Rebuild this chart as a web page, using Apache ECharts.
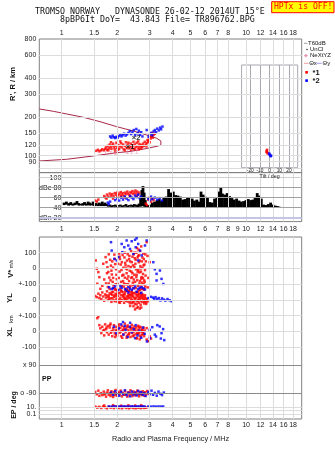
<!DOCTYPE html>
<html><head><meta charset="utf-8">
<script src="https://cdn.jsdelivr.net/npm/echarts@6.0.0/dist/echarts.min.js"></script>
<style>html,body{margin:0;padding:0;background:#fff}#c{width:335px;height:451px}</style>
</head><body><div id="c"></div>
<script>
// ---------- axis ticks ----------
const freqTicks = [1,1.5,2,3,4,5,6,7,8,10,12,14,16,18];
const freqTicksMid = [1,1.5,2,3,4,5,6,7,8,9,10,12,14,16,18];
const rangeTicks = [80,90,100,120,150,200,300,400,600,800];
const dbTicks = [100,80,60,40,20];
const dbTickLabels = ['100','dBe 80','60','40','dBn 20'];
const tiltTicks = [-20,-10,0,10,20];
const bandTickU = [100,0,-100,-200,-300,-400,-500,-614,-794,-879,-923.5];
const bandTickLabels = ['100','0','+-100','0','+-100','0','-100','x 90','o -90','10.','0.1'];

// ---------- top panel: virtual height vs frequency ----------
const profileCurve = [[0.756,230],[0.90,220.6],[1.064,210.3],[1.31,198.3],[1.614,183.4],[1.988,167.7],[2.446,155.3],[2.892,144.6],[3.278,136.3],[3.45,130],[3.513,126.1],[3.45,121.5],[3.343,118.9],[2.831,113.1],[2.348,107.8],[1.988,105.5],[1.484,99.5],[1.064,93.8],[0.756,91]];
const neXtYZ = [[1.733,104.4],[1.851,104.4],[1.963,105.3],[2.27,107.2],[2.398,108.2],[2.553,108.2]];
const centroids = [[2.35,117,'×1'],[2.53,137,'×2']];
const topRed = [[1.54,109],[1.57,111],[1.60,108],[1.63,110],[1.66,112],[1.69,110],[1.72,113],[1.74,116],[1.76,111],[1.78,119],[1.80,114],[1.82,122],[1.84,117],[1.86,113],[1.88,120],[1.90,124],[1.92,116],[1.94,112],[1.96,119],[1.98,126],[2.00,115],[2.03,121],[2.05,113],[2.07,118],[2.10,125],[2.12,116],[2.15,122],[2.17,112],[2.20,119],[2.23,127],[2.25,115],[2.28,121],[2.31,114],[2.34,118],[2.37,124],[2.40,116],[2.43,120],[2.46,113],[2.49,122],[2.52,117],[2.55,126],[2.58,119],[2.61,115],[2.64,123],[2.67,118],[2.70,121],[2.73,117],[2.76,124],[2.79,119],[2.82,128],[2.86,122],[2.90,125],[2.94,129],[2.97,133],[3.00,127],[3.04,136],[3.08,141],[3.12,138],[3.15,145],[3.20,148],[1.85,127],[2.08,129],[2.30,126],[2.60,129],[2.45,128],[1.95,108],[2.20,110],[2.50,112],[2.70,114],[1.79,110],[2.02,111],[2.38,111],[2.62,112],[2.88,118],[2.92,132],[3.02,140],[3.1,150]];
const topBlue = [[1.83,141],[1.86,138],[1.89,143],[1.92,139],[1.95,137],[1.98,140],[2.01,138],[2.05,142],[2.08,146],[2.11,141],[2.14,144],[2.18,148],[2.22,143],[2.26,146],[2.30,150],[2.34,155],[2.38,147],[2.42,152],[2.46,158],[2.50,144],[2.54,161],[2.58,149],[2.62,156],[2.66,145],[2.70,152],[2.74,141],[2.89,158],[2.96,140],[3.00,146],[3.05,150],[3.10,144],[3.15,154],[3.20,158],[3.25,152],[3.30,162],[3.36,157],[3.42,165],[3.46,160],[3.52,168]];

// ---------- dBe panel ----------
const ampRed = [[1.52,54],[1.55,52],[1.58,56],[1.70,63],[1.73,60],[1.76,66],[1.79,62],[1.82,68],[1.85,64],[1.88,67],[1.91,63],[1.94,69],[1.97,66],[2.0,70],[2.03,65],[2.06,68],[2.09,71],[2.12,66],[2.15,69],[2.18,64],[2.21,70],[2.24,67],[2.27,72],[2.30,68],[2.33,65],[2.36,71],[2.39,69],[2.42,73],[2.45,67],[2.48,70],[2.51,74],[2.54,68],[2.57,72],[2.6,66],[2.63,70],[1.75,58],[2.0,62],[2.2,60],[1.9,58],[2.1,63],[2.35,62],[2.55,63],[2.86,48],[2.9,45],[2.95,56],[3.0,60],[3.05,52],[3.1,58],[3.15,55]];
const ampBlue = [[1.78,50],[1.8,47],[1.83,52],[1.95,55],[2.0,58],[2.05,54],[2.1,60],[2.15,56],[2.2,62],[2.25,58],[2.3,55],[2.35,63],[2.4,60],[2.45,57],[2.5,64],[2.55,61],[2.6,66],[2.65,59],[2.7,62],[2.95,58],[3.0,55],[3.05,62],[3.1,57],[3.2,60],[3.3,56],[3.4,59],[3.5,54]];
// noise: [frequency, low dB, high dB]
const noiseBars = [[1.03,45,50],[1.06,46,52],[1.09,44,49],[1.12,45,51],[1.15,44,48],[1.18,45,50],[1.21,46,53],[1.24,44,49],[1.27,45,47],[1.30,44,49],[1.33,45,51],[1.36,44,48],[1.39,45,52],[1.42,44,50],[1.45,45,48],[1.48,44,52],[1.51,43,47],[1.54,44,49],[1.57,43,46],[1.60,44,50],[1.63,43,47],[1.66,44,52],[1.69,43,48],[1.72,44,50],[1.75,43,47],
[1.79,42,45],[1.83,42,46],[1.87,41,44],[1.91,42,45],[1.95,42,46],[1.99,41,44],[2.03,42,45],[2.08,42,46],[2.13,41,44],[2.18,42,45],[2.23,42,47],[2.28,41,44],[2.33,42,45],[2.38,42,46],[2.43,41,45],[2.48,42,47],[2.53,42,45],[2.58,41,46],[2.63,42,48],
[2.68,42,62],[2.72,44,75],[2.76,43,83],[2.80,42,70],[2.84,42,55],[2.88,40,44],[2.93,40,45],[2.98,41,44],[3.03,40,46],
[3.10,41,50],[3.19,40,52],[3.29,41,55],[3.38,40,57],[3.48,41,54],[3.58,40,60],[3.69,41,62],[3.80,40,77],[3.91,41,70],[4.03,40,72],[4.15,41,65],[4.27,40,64],[4.40,41,62],[4.53,40,56],[4.67,41,57],[4.81,40,61],[4.95,41,60],[5.10,40,58],[5.25,41,54],[5.41,40,56],[5.57,41,52],[5.70,40,72],[5.85,41,66],[6.00,40,62],[6.18,41,60],[6.36,40,51],[6.55,41,50],[6.75,40,58],[6.95,41,61],[7.15,40,72],[7.30,41,81],[7.45,40,68],[7.67,41,66],[7.90,40,69],[8.14,41,63],[8.38,40,59],[8.63,41,56],[8.89,40,58],[9.16,41,54],[9.43,40,52],[9.71,41,53],[10.0,40,55],[10.3,41,57],[10.6,40,55],[10.9,41,56],[11.2,40,60],[11.5,41,69],[11.8,40,64],[12.1,41,58],[12.45,40,46],[12.8,41,45],[13.2,40,47],[13.6,41,50],[14.0,40,46],[14.4,41,44],[14.8,40,43],[15.1,41,42]];

// ---------- bottom panel bands ----------
const vStarRed = [[1.53,51],[1.55,-2],[1.58,-23],[1.6,-55],[1.56,-97],[1.62,-129],[1.68,30],[1.7,-70],[1.66,-110],[1.73,72],[1.75,40],[1.77,8],[1.79,-22],[1.81,-58],[1.74,-95],[1.78,-118],[1.83,55],[1.85,18],[1.87,-38],[1.89,-85],[1.91,-108],[1.93,88],[1.95,28],[1.97,-5],[1.99,-68],[2.01,-98],[1.86,-14],[1.94,60],[1.82,-130],[1.96,-136],[1.8,90],[1.9,5],[1.98,-40],[1.84,-75],[1.92,-125],[2.05,95],[2.07,60],[2.09,25],[2.11,-10],[2.13,-45],[2.15,-80],[2.17,-115],[2.19,70],[2.21,35],[2.23,0],[2.25,-30],[2.27,-65],[2.29,-100],[2.31,-140],[2.33,80],[2.35,45],[2.37,10],[2.39,-20],[2.41,-55],[2.43,-90],[2.45,-125],[2.47,100],[2.49,65],[2.08,-128],[2.14,85],[2.2,-58],[2.26,50],[2.32,-80],[2.38,110],[2.44,20],[2.1,-140],[2.06,-20],[2.12,40],[2.18,-95],[2.24,-130],[2.3,15],[2.36,-110],[2.42,75],[2.48,-40],[2.16,5],[2.22,-135],[2.28,90],[2.34,-15],[2.4,-145],[2.46,-70],[2.51,30],[2.53,-5],[2.55,-40],[2.57,-75],[2.59,-110],[2.61,120],[2.63,85],[2.65,50],[2.67,15],[2.69,-20],[2.71,-55],[2.73,-90],[2.75,-130],[2.77,95],[2.79,60],[2.81,25],[2.83,-10],[2.85,-45],[2.56,130],[2.62,-140],[2.7,140],[2.78,-100],[2.66,-80],[2.74,5],[2.52,-125],[2.58,70],[2.64,-25],[2.68,-115],[2.72,45],[2.76,-60],[2.8,-135],[2.54,100],[2.6,-10],[2.82,-85],[2.89,167],[2.92,80],[2.95,-60],[3.0,40],[2.93,-120],
[1.76,-30],[1.8,-95],[1.88,45],[1.9,-60],[1.96,-100],[2.02,30],[2.04,-60],[2.06,75],[2.1,-85],[2.12,-110],[2.16,-40],[2.2,100],[2.22,20],[2.24,-100],[2.26,-5],[2.3,-50],[2.32,60],[2.34,-120],[2.38,-60],[2.4,40],[2.42,-30],[2.44,-105],[2.46,90],[2.48,10],[2.5,-85],[2.52,55],[2.54,-55],[2.58,-20],[2.6,80],[2.62,40],[2.64,-95],[2.66,110],[2.68,0],[2.7,-65],[2.72,-130],[2.74,70],[2.76,-35],[2.78,20],[2.8,-75],[2.84,-115],[2.86,45],[2.84,90]];
const vStarBlue = [[1.851,167],[1.867,114],[1.93,61],[1.99,51],[2.03,72],[2.115,156],[2.13,104],[2.186,135],[2.25,178],[2.296,146],[2.346,124],[2.397,173],[2.446,93],[2.5,182],[2.52,135],[2.55,192],[2.6,156],[2.66,114],[2.716,83],[2.83,146],[2.89,178],[2.6,51],[1.806,-119],[1.867,-130],[1.946,-114],[2.03,-136],[2.115,-123],[2.206,-131],[2.296,-119],[2.397,-136],[2.5,-114],[2.6,-130],[2.716,-119],[2.83,-133],[1.9,-125],[2.25,-140],[2.45,-126],[2.65,-122],[2.08,-112],[2.35,-128],[2.78,-126],[3.14,40],[3.27,-34],[3.41,-13],[3.48,-66],[3.56,-98],[3.27,-76],[3.2,-5]];
const yLRed = [[1.52,25],[1.55,18],[1.58,40],[1.6,12],[1.62,30],[1.64,5],[1.66,48],[1.68,22],[1.7,-5],[1.72,35],[1.74,15],[1.76,55],[1.78,0],[1.8,28],[1.82,42],[1.84,10],[1.86,-12],[1.88,33],[1.9,52],[1.92,20],[1.94,-8],[1.96,38],[1.98,8],[2.0,60],[2.02,25],[2.04,-15],[2.06,45],[2.08,12],[2.1,30],[2.12,-2],[2.14,50],[2.16,18],[2.18,-18],[2.2,36],[2.22,5],[2.24,58],[2.26,22],[2.28,-10],[2.3,40],[2.32,14],[2.34,-20],[2.36,32],[2.38,48],[2.4,2],[2.42,26],[2.44,-14],[2.46,44],[2.48,10],[2.5,-25],[2.52,35],[2.54,16],[2.56,-8],[2.58,52],[2.6,24],[2.62,-18],[2.64,40],[2.66,6],[2.68,-30],[2.7,28],[2.72,12],[2.74,-12],[2.76,34],[2.78,0],[2.8,-22],[2.82,20],[2.84,-5],[2.86,10],[2.88,-15],[2.9,4],[2.93,-8],[1.79,20],[1.85,38],[1.91,0],[1.97,25],[2.03,42],[2.09,-5],[2.15,28],[2.21,50],[2.27,8],[2.33,30],[2.39,-2],[2.45,20],[2.51,8],[2.57,30],[2.63,12],[2.69,-8],[2.75,18],[2.81,-12],[1.88,12],[2.0,-10],[2.2,15],[2.4,35],[2.6,0],[2.7,45],[2.35,-6],[2.55,-28],[2.45,-40],[2.55,-50],[2.6,-45],[2.65,-55],[2.5,-60],[2.7,-48],[2.35,-38],[1.95,70],[2.25,72],[2.65,65],
[1.75,30],[1.81,8],[1.87,50],[1.93,28],[1.99,40],[2.05,2],[2.11,55],[2.17,35],[2.23,-5],[2.29,25],[2.31,55],[2.37,15],[2.43,42],[2.47,-8],[2.53,48],[2.59,-5],[2.61,38],[2.67,22],[2.73,30],[2.79,8],[2.83,30],[2.87,-25],[2.41,-20],[2.19,5],[2.07,-18]];
const yLBlue = [[3.13,15],[3.18,8],[3.23,18],[3.3,5],[3.36,12],[3.43,-3],[3.5,10],[3.58,2],[3.65,-4],[3.75,6],[3.85,-2],[3.95,-8],[2.3,48],[2.55,52],[2.7,45],[3.05,20],[2.95,12]];
const xLRed = [[1.58,95],[1.56,84],[1.6,40],[1.62,20],[1.64,-10],[1.66,30],[1.68,5],[1.7,-25],[1.72,45],[1.74,15],[1.76,-5],[1.78,35],[1.8,-20],[1.82,25],[1.84,50],[1.86,0],[1.88,-30],[1.9,20],[1.92,40],[1.94,-12],[1.96,10],[1.98,30],[2.0,-25],[2.02,15],[2.04,45],[2.06,-8],[2.08,22],[2.1,-30],[2.12,35],[2.14,5],[2.16,-18],[2.18,28],[2.2,50],[2.22,-5],[2.24,18],[2.26,-28],[2.28,38],[2.3,8],[2.32,-15],[2.34,25],[2.36,-35],[2.38,12],[2.4,42],[2.42,-10],[2.44,20],[2.46,-25],[2.48,32],[2.5,2],[2.52,-18],[2.54,26],[2.56,-40],[2.58,10],[2.6,36],[2.62,-8],[2.64,18],[2.66,-28],[2.68,28],[2.7,0],[2.72,-20],[2.74,14],[2.76,-12],[2.78,24],[2.8,-30],[2.82,6],[1.7,10],[1.85,-8],[2.0,5],[2.15,12],[2.3,-20],[2.45,0],[2.6,-15],[2.75,-2],[1.95,-35],[2.25,-40],[2.55,-45],[2.65,-50],[2.89,21],[3.01,-32],[2.89,-51],[2.94,-62],[3.05,-45],
[1.75,25],[1.83,40],[1.89,5],[1.97,-20],[2.03,35],[2.09,0],[2.13,-40],[2.19,15],[2.27,30],[2.33,-5],[2.39,25],[2.43,-30],[2.49,15],[2.57,-10],[2.63,30],[2.69,-35],[2.73,8],[2.79,-15]];
const xLBlue = [[1.92,30],[1.98,-10],[2.04,20],[2.1,45],[2.16,-20],[2.22,10],[2.28,-35],[2.34,30],[2.4,-5],[2.46,15],[2.52,40],[2.58,-25],[2.64,5],[2.7,-40],[2.76,25],[2.82,-15],[2.2,35],[2.5,-42],[2.35,55],[2.15,60],[2.9,-63],[3.01,-43],[3.25,-32],[3.48,-11],[3.4,32],[3.1,27],[3.3,40],[3.55,15],[3.2,-20],[3.6,-55],[3.45,-45],[3.0,10]];
const ppRed = [[1.52,-80],[1.55,-95],[1.58,-72],[1.6,-105],[1.63,-88],[1.66,-100],[1.69,-78],[1.72,-92],[1.74,-110],[1.76,-84],[1.78,-70],[1.8,-98],[1.82,-88],[1.84,-106],[1.86,-76],[1.88,-94],[1.9,-112],[1.92,-82],[1.94,-100],[1.96,-68],[1.98,-90],[2.0,-104],[2.03,-80],[2.06,-96],[2.09,-72],[2.12,-108],[2.15,-86],[2.18,-98],[2.21,-74],[2.24,-92],[2.27,-110],[2.3,-82],[2.33,-100],[2.36,-70],[2.39,-94],[2.42,-106],[2.45,-78],[2.48,-90],[2.51,-102],[2.54,-84],[2.57,-72],[2.6,-96],[2.63,-108],[2.66,-80],[2.69,-92],[2.72,-100],[2.75,-76],[2.78,-88],[2.81,-104],[2.84,-82],[2.87,-96],[2.91,-74],[2.95,-90],[1.7,-96],[1.85,-90],[2.05,-88],[2.2,-96],[2.35,-86],[2.5,-94],[2.65,-88]];
const ppBlue = [[1.85,-84],[1.9,-98],[1.95,-76],[2.0,-92],[2.05,-104],[2.1,-80],[2.15,-94],[2.2,-70],[2.25,-100],[2.3,-86],[2.35,-108],[2.4,-78],[2.45,-96],[2.5,-84],[2.55,-102],[2.6,-74],[2.65,-92],[2.7,-82],[2.75,-98],[2.8,-88],[2.85,-106],[2.95,-80],[3.0,-94],[3.07,-72],[3.13,-98],[3.2,-86],[3.28,-104],[3.35,-78],[3.43,-92],[3.5,-100],[3.58,-84]];
const epRed = [[1.52,12],[1.56,6],[1.6,10],[1.64,5],[1.68,14],[1.72,8],[1.76,4],[1.8,11],[1.84,6],[1.88,9],[1.92,4.5],[1.96,13],[2.0,7],[2.04,5],[2.08,10],[2.12,4],[2.16,8],[2.2,12],[2.24,5],[2.28,9],[2.32,4],[2.36,7],[2.4,11],[2.44,5],[2.48,8],[2.52,4],[2.56,10],[2.6,6],[2.64,9],[2.68,4.5],[2.72,7],[2.76,12],[2.8,5],[2.84,8],[2.88,6],[1.7,25],[1.9,30],[2.1,22],[2.3,28],[2.5,24],[2.7,30]];
const epBlue = [[1.8,13],[1.86,12],[1.92,14],[1.98,12],[2.04,13],[2.1,12],[2.16,14],[2.22,12],[2.28,13],[2.34,12],[2.4,14],[2.46,12],[2.52,13],[2.58,12],[2.64,14],[2.7,12],[2.76,13],[2.82,12],[2.95,13],[3.05,12],[3.15,14],[3.25,12],[3.35,13],[3.45,12],[3.55,13]];

// ---------- tilt inset ----------
const tiltRed = [[-3,109],[-2.5,106],[-2,104],[-3.3,107],[-2.7,111]];
const tiltBlue = [[-0.5,104],[0.5,101],[1,99],[1.5,100],[0,102]];

// ---------- build ----------
const FMIN = 0.7556, FMAX = 20.05, L = 39.3, R = 33.3;
const FONT = '"Liberation Sans", Arial, sans-serif';
const MONO = '"DejaVu Sans Mono", monospace';
const lbl = {color:'#1a1a1a', fontSize:7, fontFamily:FONT};
const fmtF = v => String(+(+v).toPrecision(3));
const toU = {
  v: v => v, yl: v => v - 200, xl: v => v - 400, pp: v => v - 704,
  ep: v => -923.5 + (Math.log10(v) + 1) * 22.25
};
const band = (arr, fn) => arr.map(([f, v]) => [f, fn(v)]);
const botRed = [].concat(band(vStarRed,toU.v), band(yLRed,toU.yl), band(xLRed,toU.xl), band(ppRed,toU.pp), band(epRed,toU.ep));
const botBlue = [].concat(band(vStarBlue,toU.v), band(yLBlue,toU.yl), band(xLBlue,toU.xl), band(ppBlue,toU.pp), band(epBlue,toU.ep));

const LIGHT = '#dcdcdc';
const ln = (key, v, color) => ({[key]: v, lineStyle:{color, width:1, type:'solid'}});
function gridLines(xi, yi, data, z){
  return {type:'line', xAxisIndex:xi, yAxisIndex:yi, data:[], silent:true, z,
    markLine:{silent:true, symbol:['none','none'], label:{show:false}, animation:false, data}};
}
const pts = (xi, yi, data, color, z, size) => ({type:'scatter', xAxisIndex:xi, yAxisIndex:yi, data, symbol:'rect', symbolSize:size||2.5, itemStyle:{color}, z, silent:true, animation:false});

const xBase = (gi, extra) => Object.assign({gridIndex:gi, type:'log', min:FMIN, max:FMAX, axisLine:{show:false}, axisTick:{show:false}, splitLine:{show:false}, minorSplitLine:{show:false}}, extra);

const option = {
  animation:false,
  grid:[
    {left:L, right:R, top:39, height:133.6, show:true, borderColor:'#808080', borderWidth:1, backgroundColor:'#fff', z:0},
    {left:L, right:R, top:172.6, height:49, show:true, borderColor:'#808080', borderWidth:1, z:0},
    {left:L, right:R, top:237, height:182, show:true, borderColor:'#808080', borderWidth:1, z:0},
    {left:241.6, width:56.1, top:65, height:102.7, show:true, borderColor:'#a8a8b0', borderWidth:1, backgroundColor:'#fff', z:5}
  ],
  xAxis:[
    xBase(0, {position:'top', axisLabel:Object.assign({}, lbl, {margin:2, customValues:freqTicks, formatter:fmtF})}),
    xBase(1, {position:'bottom', axisLabel:Object.assign({}, lbl, {margin:4, customValues:freqTicksMid, formatter:fmtF})}),
    xBase(2, {position:'bottom', axisLabel:Object.assign({}, lbl, {margin:3, customValues:freqTicks, formatter:fmtF}),
      name:'Radio and Plasma Frequency / MHz', nameLocation:'middle', nameGap:16,
      nameTextStyle:{color:'#1a1a1a', fontSize:7.3, fontFamily:FONT}}),
    {gridIndex:3, type:'value', min:-29, max:29, z:6, axisLine:{show:false}, axisTick:{show:false}, splitLine:{show:false},
      axisLabel:{color:'#1a1a1a', fontSize:4.8, fontFamily:FONT, margin:0.5, customValues:tiltTicks},
      name:'Tilt / deg', nameLocation:'middle', nameGap:5, nameTextStyle:{color:'#1a1a1a', fontSize:5.3, fontFamily:FONT}}
  ],
  yAxis:[
    {gridIndex:0, type:'log', min:74, max:800, axisLine:{show:false}, axisTick:{show:false}, splitLine:{show:false}, minorSplitLine:{show:false},
      axisLabel:Object.assign({}, lbl, {margin:3, customValues:rangeTicks, formatter:v=>String(Math.round(v))})},
    {gridIndex:1, type:'value', min:12, max:110, axisLine:{show:false}, axisTick:{show:false}, splitLine:{show:false},
      axisLabel:Object.assign({}, lbl, {inside:true, margin:22, align:'right', customValues:dbTicks,
        formatter:v=>{let i=0,b=1e9;dbTicks.forEach((t,k)=>{if(Math.abs(t-v)<b){b=Math.abs(t-v);i=k;}});return dbTickLabels[i];}})},
    {gridIndex:2, type:'value', min:-956, max:200, axisLine:{show:false}, axisTick:{show:false}, splitLine:{show:false},
      axisLabel:Object.assign({}, lbl, {margin:3, customValues:bandTickU,
        formatter:v=>{let i=0,b=1e9;bandTickU.forEach((t,k)=>{if(Math.abs(t-v)<b){b=Math.abs(t-v);i=k;}});return bandTickLabels[i];}})},
    {gridIndex:3, type:'log', min:80.75, max:503.6, show:false, axisLine:{show:false}, splitLine:{show:false}}
  ],
  series:[
    // grid lines
    gridLines(0,0, freqTicks.map(v=>ln('xAxis',v,LIGHT)).concat(rangeTicks.filter(v=>v<800).map(v=>ln('yAxis',v,LIGHT))), 1),
    gridLines(1,1, freqTicks.map(v=>ln('xAxis',v,LIGHT)).concat([ln('yAxis',100,'#cfcfcf'),ln('yAxis',80,'#a0a0a0'),ln('yAxis',60,'#a0a0a0'),ln('yAxis',40,'#a0a0a0'),ln('yAxis',20.8,'#c4c4e4'),ln('yAxis',19.2,'#c4c4e4')]), 1),
    gridLines(2,2, freqTicks.map(v=>ln('xAxis',v,LIGHT)).concat([100,0,-100,-200,-300,-400,-500].map(v=>ln('yAxis',v,LIGHT)), [ln('yAxis',-614,'#8a8a8a'), ln('yAxis',-794,'#8a8a8a'), ln('yAxis',-879,LIGHT), ln('yAxis',-901,LIGHT), ln('yAxis',-923.5,LIGHT)]), 1),
    gridLines(3,3, tiltTicks.map(v=>ln('xAxis',v,'#a8a8b0')).concat([90,100,120,150,200,300,400].map(v=>ln('yAxis',v,LIGHT))), 6),
    // top panel
    {type:'line', xAxisIndex:0, yAxisIndex:0, data:profileCurve, showSymbol:false, symbol:'none', lineStyle:{color:'#a8284a', width:1}, z:2, silent:true, animation:false},
    pts(0,0, topRed, '#ff0000', 3),
    pts(0,0, topBlue, '#0000ff', 4),
    {type:'scatter', xAxisIndex:0, yAxisIndex:0, data:neXtYZ, symbol:'path://M0,0h5v1h-2v6h2v1h-5v-1h2v-6h-2z', symbolSize:[3,4.5], itemStyle:{color:'#e87fa0'}, z:4, silent:true},
    {type:'scatter', xAxisIndex:0, yAxisIndex:0, data:centroids, symbolSize:0, z:5, silent:true,
      label:{show:true, position:'inside', formatter:p=>p.data[2], color:'#000', fontSize:7.5, fontWeight:'bold', fontFamily:FONT}},
    // dBe panel
    {type:'custom', xAxisIndex:1, yAxisIndex:1, data:noiseBars, z:2, silent:true, encode:{x:0, y:[1,2]},
      renderItem:(p, api)=>{const a=api.coord([api.value(0), api.value(2)]); const b=api.coord([api.value(0), api.value(1)]);
        return {type:'rect', shape:{x:a[0]-1.4, y:a[1], width:2.8, height:Math.max(1.2, b[1]-a[1])}, style:{fill:'#000'}};}},
    pts(1,1, ampRed, '#ff0000', 3),
    pts(1,1, ampBlue, '#0000ff', 4),
    // bottom panel
    pts(2,2, botRed, '#ff0000', 3),
    pts(2,2, botBlue, '#0000ff', 4),
    // inset
    pts(3,3, tiltRed, '#ff0000', 7),
    pts(3,3, tiltBlue, '#0000ff', 8)
  ],
  graphic:[]
};

function txt(x, y, text, font, o){
  o = o || {};
  return {type:'text', x, y, rotation:o.rot||0, silent:true, z:100,
    style:{text, x:0, y:0, font, fill:o.fill||'#111', align:o.align||'left', textAlign:o.align||'left', verticalAlign:'middle', textVerticalAlign:'middle'}};
}
const V = Math.PI/2;
option.graphic = [
  txt(35, 12.2, 'TROMSO NORWAY   DYNASONDE 26-02-12 2014UT 15°E', '8.3px '+MONO),
  txt(60, 20, '8pBP6It DoY=  43.843 File= TR896762.BPG', '8.3px '+MONO),
  {type:'rect', shape:{x:271.7, y:1.7, width:62.3, height:11}, style:{fill:'#ffff00', stroke:'#ff0000', lineWidth:1}, z:99, silent:true},
  txt(274, 7.3, 'HPTx is OFF!', '8.1px '+MONO, {fill:'#ff0000'}),
  // legend
  {type:'line', shape:{x1:304, y1:43.3, x2:307.5, y2:43.3}, style:{stroke:'#a0a0a0', lineWidth:1}, z:100, silent:true},
  txt(308, 43.3, 'T60dB', '6px '+FONT),
  {type:'circle', shape:{cx:307, cy:49.5, r:0.7}, style:{fill:'#000'}, z:100, silent:true},
  txt(310, 49, 'UnCl', '6px '+FONT),
  {type:'line', shape:{x1:304.2, y1:55.7, x2:307.6, y2:55.7}, style:{stroke:'#e87fa0', lineWidth:1}, z:100, silent:true},
  {type:'line', shape:{x1:305.9, y1:54, x2:305.9, y2:57.4}, style:{stroke:'#e87fa0', lineWidth:1}, z:100, silent:true},
  txt(310, 55.7, 'NeXtYZ', '6px '+FONT),
  {type:'line', shape:{x1:304, y1:63.3, x2:308.5, y2:63.3}, style:{stroke:'#f0a0a0', lineWidth:1}, z:100, silent:true},
  txt(309.2, 63.3, 'Θx', '6px '+FONT),
  {type:'line', shape:{x1:316.5, y1:63.3, x2:321.7, y2:63.3}, style:{stroke:'#a0a0e8', lineWidth:1}, z:100, silent:true},
  txt(322.5, 63.3, 'Θy', '6px '+FONT),
  {type:'rect', shape:{x:305.3, y:71, width:2.6, height:2.6}, style:{fill:'#ff0000'}, z:100, silent:true},
  txt(312.5, 72.5, '*1', 'bold 7.5px '+FONT),
  {type:'rect', shape:{x:305.3, y:79.3, width:2.6, height:2.6}, style:{fill:'#0000ff'}, z:100, silent:true},
  txt(312.5, 80.8, '*2', 'bold 7.5px '+FONT),
  // side labels
  txt(13.3, 84, "R', R / km", 'bold 7.5px '+FONT, {rot:V, align:'center'}),
  txt(10.7, 273.8, 'V*', 'bold 7.5px '+FONT, {rot:V, align:'center'}),
  txt(11.3, 264, 'm/s', '5px '+FONT, {rot:V, align:'center'}),
  txt(10.4, 298, 'YL', 'bold 7.5px '+FONT, {rot:V, align:'center'}),
  txt(11.2, 319, 'km', '5.5px '+FONT, {rot:V, align:'center'}),
  txt(10.4, 332, 'XL', 'bold 7.5px '+FONT, {rot:V, align:'center'}),
  txt(46.7, 379.5, 'PP', 'bold 7px '+FONT, {align:'center'}),
  txt(14.5, 405, 'EP / deg', 'bold 7px '+FONT, {rot:V, align:'center'})
];

const chart = echarts.init(document.getElementById('c'), null, {renderer:'canvas', width:335, height:451});
chart.setOption(option);
</script>
</body></html>
